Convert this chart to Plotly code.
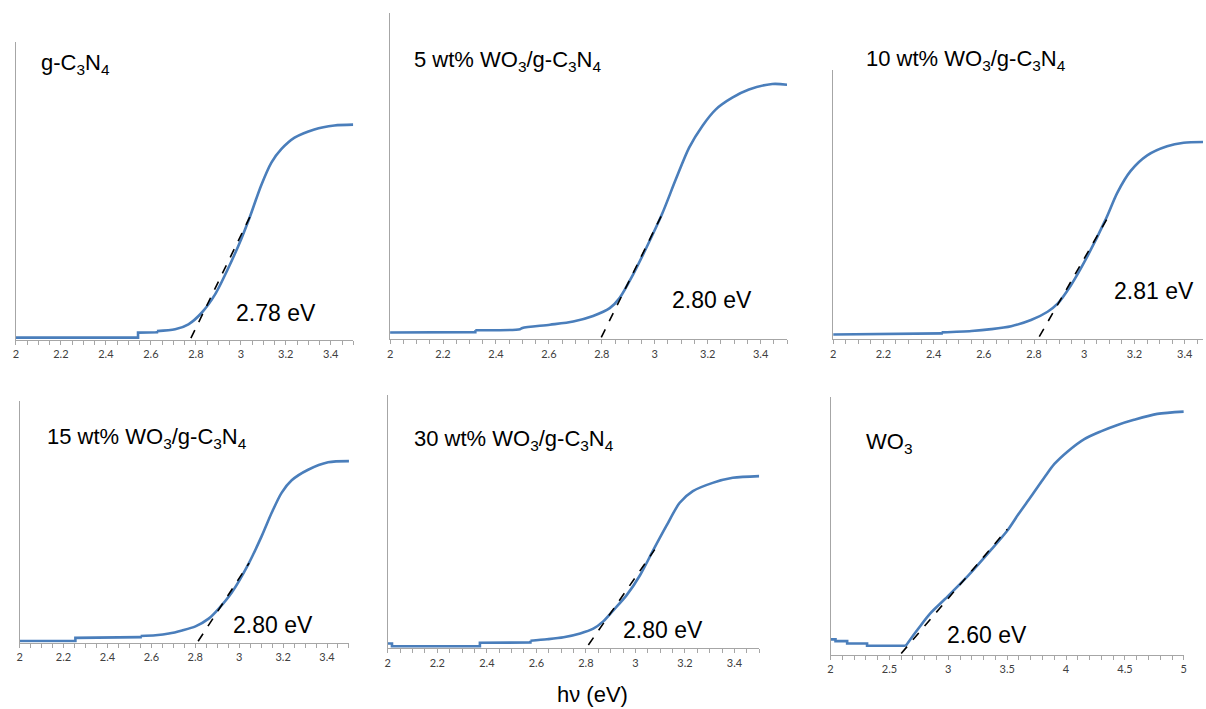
import plotly.graph_objects as go

W, H = 1206, 709

# ---------------- data (normalized absorption, arbitrary units) ----------------
titles = ["g-C<sub>3</sub>N<sub>4</sub>",
          "5 wt% WO<sub>3</sub>/g-C<sub>3</sub>N<sub>4</sub>",
          "10 wt% WO<sub>3</sub>/g-C<sub>3</sub>N<sub>4</sub>",
          "15 wt% WO<sub>3</sub>/g-C<sub>3</sub>N<sub>4</sub>",
          "30 wt% WO<sub>3</sub>/g-C<sub>3</sub>N<sub>4</sub>",
          "WO<sub>3</sub>"]
gap_labels = ["2.78 eV", "2.80 eV", "2.81 eV", "2.80 eV", "2.80 eV", "2.60 eV"]

x1 = [2.0, 2.543, 2.543, 2.627, 2.627, 2.708, 2.767, 2.826, 2.885, 2.944, 3.003, 3.04,
      3.09, 3.136, 3.18, 3.239, 3.327, 3.416, 3.5]
y1 = [0.002, 0.002, 0.019, 0.020, 0.024, 0.030, 0.047, 0.086, 0.147, 0.236, 0.337, 0.409,
      0.515, 0.593, 0.638, 0.677, 0.705, 0.718, 0.721]

x2 = [2.0, 2.322, 2.322, 2.491, 2.5, 2.604, 2.692, 2.767, 2.830, 2.867, 2.917, 2.967,
      3.028, 3.080, 3.130, 3.180, 3.231, 3.293, 3.356, 3.444, 3.5]
y2 = [0.015, 0.016, 0.022, 0.025, 0.029, 0.039, 0.049, 0.066, 0.090, 0.121, 0.192, 0.274,
      0.381, 0.488, 0.585, 0.652, 0.703, 0.739, 0.764, 0.781, 0.779]

x3 = [2.0, 2.432, 2.432, 2.551, 2.630, 2.709, 2.788, 2.854, 2.894, 2.947, 3.000, 3.086,
      3.132, 3.185, 3.251, 3.330, 3.396, 3.473]
y3 = [0.012, 0.016, 0.020, 0.025, 0.032, 0.043, 0.066, 0.097, 0.127, 0.196, 0.282, 0.443,
      0.542, 0.623, 0.681, 0.715, 0.728, 0.731]

x4 = [2.0, 2.254, 2.254, 2.551, 2.551, 2.619, 2.680, 2.740, 2.801, 2.861, 2.906, 2.967,
      3.042, 3.103, 3.148, 3.193, 3.239, 3.314, 3.405, 3.5]
y4 = [0.001, 0.001, 0.014, 0.017, 0.022, 0.025, 0.032, 0.045, 0.062, 0.094, 0.135, 0.204,
      0.321, 0.438, 0.534, 0.617, 0.669, 0.713, 0.744, 0.749]

x5 = [2.0, 2.017, 2.017, 2.372, 2.372, 2.576, 2.576, 2.643, 2.710, 2.777, 2.830, 2.870,
      2.911, 2.964, 3.018, 3.071, 3.125, 3.179, 3.232, 3.312, 3.393, 3.5]
y5 = [0.013, 0.013, 0.002, 0.002, 0.016, 0.017, 0.024, 0.030, 0.038, 0.053, 0.072, 0.101,
      0.145, 0.204, 0.283, 0.382, 0.480, 0.572, 0.618, 0.651, 0.671, 0.678]

x6 = [2.0, 2.042, 2.042, 2.141, 2.141, 2.31, 2.31, 2.639, 2.662, 2.746, 2.845, 2.972,
      3.169, 3.366, 3.507, 3.592, 3.704, 3.817, 3.901, 4.014, 4.155, 4.296, 4.437, 4.577,
      4.775, 5.0]
y6 = [0.055, 0.055, 0.048, 0.048, 0.039, 0.039, 0.030, 0.030, 0.045, 0.097, 0.155, 0.212,
      0.303, 0.405, 0.482, 0.540, 0.612, 0.686, 0.738, 0.787, 0.835, 0.865, 0.890, 0.910,
      0.933, 0.942]

# index where the stepped baseline ends and the smooth absorption edge begins
edge_start = [4, 2, 2, 4, 6, 7]

# tangent (Tauc extrapolation) lines: [x_start, x_end], [y_start, y_end]
tan_x = [[2.778, 3.04], [2.798, 3.03], [2.821, 3.092], [2.813, 3.045], [2.810, 3.078], [2.600, 3.501]]
tan_y = [[0.0, 0.409], [0.0, 0.383], [0.004, 0.446], [0.0, 0.325], [0.007, 0.386], [0.0, 0.484]]

xs = [x1, x2, x3, x4, x5, x6]
ys = [y1, y2, y3, y4, y5, y6]

x_ranges = [[2, 3.5], [2, 3.5], [2, 3.473], [2, 3.5], [2, 3.5], [2, 5]]
x_major = [0.2, 0.2, 0.2, 0.2, 0.2, 0.5]
x_minor = [0.05, 0.05, 0.05, 0.05, 0.05, 0.1]

# ---------------- layout (pixel boxes: left, right, top, bottom) ----------------
boxes = [(13, 352, 42, 340), (389, 788, 13, 339.3), (834.3, 1206, 70, 339.3),
         (16.7, 347.7, 400.7, 642.7), (386.7, 760, 395, 648.3), (831.7, 1186.7, 396.7, 655)]
title_pos = [(36, 64), (411, 61), (865, 60), (42, 438), (411, 440), (865, 443)]
label_pos = [(232, 313), (670, 300), (1115, 291), (229, 625), (621, 630), (947, 635)]

fig = go.Figure()
blue = "#4A7EBB"
axis_grey = "#A6A6A6"

for i in range(6):
    ax = "" if i == 0 else str(i + 1)
    xa, ya = "x" + ax, "y" + ax
    k = edge_start[i]
    # stepped baseline (linear)
    fig.add_trace(go.Scatter(x=xs[i][:k + 1], y=ys[i][:k + 1], mode="lines", xaxis=xa, yaxis=ya,
                             line=dict(color=blue, width=2.6, shape="linear"),
                             showlegend=False, hoverinfo="skip"))
    # smooth absorption edge
    fig.add_trace(go.Scatter(x=xs[i][k:], y=ys[i][k:], mode="lines", xaxis=xa, yaxis=ya,
                             line=dict(color=blue, width=2.6, shape="spline", smoothing=0.8),
                             showlegend=False, hoverinfo="skip"))
    fig.add_trace(go.Scatter(x=tan_x[i], y=tan_y[i], mode="lines", xaxis=xa, yaxis=ya,
                             line=dict(color="black", width=1.6, dash="dash"),
                             showlegend=False, hoverinfo="skip"))
    l, r, t, b = boxes[i]
    fig.layout["xaxis" + ax] = dict(
        domain=[l / W, min(r / W, 1.0)], range=x_ranges[i], anchor=ya,
        showline=True, linecolor=axis_grey, linewidth=1, showgrid=False, zeroline=False,
        ticks="outside", ticklen=4, tickcolor=axis_grey, dtick=x_major[i], tick0=2,
        minor=dict(dtick=x_minor[i], tick0=2, ticks="outside", ticklen=4,
                   tickcolor=axis_grey, showgrid=False),
        tickfont=dict(family="Lato, Open Sans, sans-serif", size=11, color="#404040"),
        fixedrange=True)
    fig.layout["yaxis" + ax] = dict(
        domain=[1 - b / H, 1 - t / H], range=[-0.006, 1], anchor=xa,
        showline=True, linecolor=axis_grey, linewidth=1, showgrid=False, zeroline=False,
        showticklabels=False, ticks="", fixedrange=True)
    tx, ty = title_pos[i]
    fig.add_annotation(text=titles[i], x=tx / W, y=1 - ty / H, xref="paper", yref="paper",
                       xanchor="left", yanchor="middle", showarrow=False,
                       font=dict(family="Liberation Sans, Arial, sans-serif", size=22,
                                 color="black"))
    lx, ly = label_pos[i]
    fig.add_annotation(text=gap_labels[i], x=lx / W, y=1 - ly / H, xref="paper", yref="paper",
                       xanchor="left", yanchor="middle", showarrow=False,
                       font=dict(family="Liberation Sans, Arial, sans-serif", size=23,
                                 color="black"))

fig.add_annotation(text="hν (eV)", x=592 / W, y=1 - 694 / H, xref="paper", yref="paper",
                   xanchor="center", yanchor="middle", showarrow=False,
                   font=dict(family="Liberation Sans, Arial, sans-serif", size=22,
                             color="black"))

fig.update_layout(width=W, height=H, margin=dict(l=0, r=0, t=0, b=0),
                  paper_bgcolor="white", plot_bgcolor="white")

fig.write_html("out.html", config={"displayModeBar": False},
               post_script="document.body.style.margin='0px';document.body.style.padding='0px';document.body.style.overflow='hidden';")
